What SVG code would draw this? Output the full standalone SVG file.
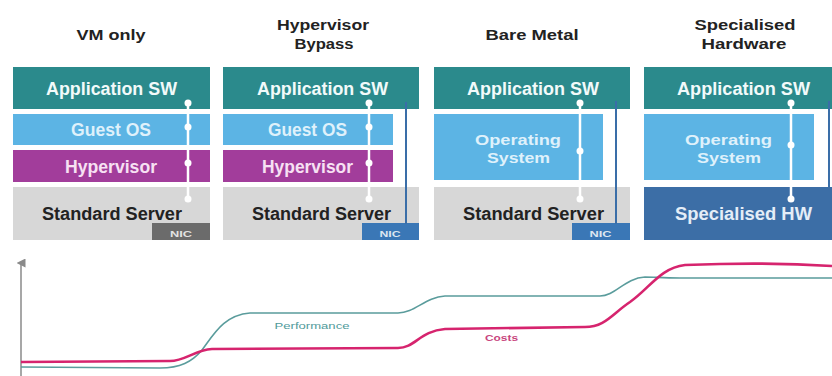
<svg xmlns="http://www.w3.org/2000/svg" width="832" height="376" viewBox="0 0 832 376">
<defs>
<style>
text{font-family:"Liberation Sans",Arial,sans-serif;font-weight:bold;text-anchor:middle}
.title{font-size:14px;fill:#222}
.lbl{font-size:17.5px}
.lbl2{font-size:15px}
.app{fill:#2b8a8c}.app-t{fill:#f2fafa}
.os{fill:#5cb4e4}.os-t{fill:#dff1fb}
.hyp{fill:#a23d9b}.hyp-t{fill:#f7e1f3}
.srv{fill:#d7d7d7}.srv-t{fill:#222}
.hw{fill:#3c6ea6}.hw-t{fill:#e4edf7}
.nic-g{fill:#6b6b6b}.nic-b{fill:#3a77b6}
.nic-t{font-size:9px;fill:#dde6f0}
.wline{stroke:#fff;stroke-width:2.5;fill:none}
.bline{stroke:#3a6ea8;stroke-width:2;fill:none}
.dot{fill:#fff}
.curve-p{stroke:#5a9c9c;stroke-width:1.6;fill:none}
.curve-c{stroke:#d6246e;stroke-width:2.6;fill:none}
.axis{stroke:#8a8a8a;stroke-width:1.5;fill:none}
.small{font-size:9px;font-weight:normal}
</style>
<marker id="arr" viewBox="0 0 10 10" refX="5" refY="5" markerWidth="6" markerHeight="6" orient="auto">
<path d="M0,10 L5,0 L10,10 Z" fill="#8a8a8a"/>
</marker>
</defs>
<rect width="832" height="376" fill="#fff"/>

<!-- Column 1: VM only -->
<g id="col-vm-only">
<text class="title" x="111" y="39.5" textLength="69" lengthAdjust="spacingAndGlyphs">VM only</text>
<rect class="app" x="13" y="67" width="197" height="42"/>
<text class="lbl app-t" x="111.5" y="94.5" textLength="131" lengthAdjust="spacingAndGlyphs">Application SW</text>
<rect class="os" x="13" y="114" width="197" height="31"/>
<text class="lbl os-t" x="111" y="136" textLength="80" lengthAdjust="spacingAndGlyphs">Guest OS</text>
<rect class="hyp" x="13" y="150" width="197" height="32"/>
<text class="lbl hyp-t" x="111" y="173" textLength="92" lengthAdjust="spacingAndGlyphs">Hypervisor</text>
<rect class="srv" x="13" y="187" width="197" height="53"/>
<text class="lbl srv-t" x="112" y="220" textLength="140" lengthAdjust="spacingAndGlyphs">Standard Server</text>
<rect class="nic-g" x="152" y="223" width="58" height="17"/>
<text class="nic-t" x="181" y="237" textLength="22" lengthAdjust="spacingAndGlyphs" style="fill:#e2e2e2">NIC</text>
</g>

<!-- Column 2: Hypervisor Bypass -->
<g id="col-hypervisor-bypass">
<text class="title" x="323" y="30" textLength="92" lengthAdjust="spacingAndGlyphs">Hypervisor</text>
<text class="title" x="324" y="49" textLength="59" lengthAdjust="spacingAndGlyphs">Bypass</text>
<rect class="app" x="223" y="67" width="196" height="42"/>
<text class="lbl app-t" x="322.5" y="94.5" textLength="131" lengthAdjust="spacingAndGlyphs">Application SW</text>
<rect class="os" x="223" y="114" width="170" height="31"/>
<text class="lbl os-t" x="307.5" y="136" textLength="79" lengthAdjust="spacingAndGlyphs">Guest OS</text>
<rect class="hyp" x="223" y="150" width="170" height="32"/>
<text class="lbl hyp-t" x="307.5" y="173" textLength="91" lengthAdjust="spacingAndGlyphs">Hypervisor</text>
<rect class="srv" x="223" y="187" width="196" height="53"/>
<text class="lbl srv-t" x="321.5" y="220" textLength="139" lengthAdjust="spacingAndGlyphs">Standard Server</text>
<rect class="nic-b" x="362" y="223" width="57" height="17"/>
<text class="nic-t" x="390" y="237" textLength="21" lengthAdjust="spacingAndGlyphs">NIC</text>
</g>

<!-- Column 3: Bare Metal -->
<g id="col-bare-metal">
<text class="title" x="532" y="39.5" textLength="93" lengthAdjust="spacingAndGlyphs">Bare Metal</text>
<rect class="app" x="434" y="67" width="196" height="42"/>
<text class="lbl app-t" x="533" y="94.5" textLength="132" lengthAdjust="spacingAndGlyphs">Application SW</text>
<rect class="os" x="434" y="114" width="169" height="66"/>
<text class="lbl2 os-t" x="518" y="145" textLength="86" lengthAdjust="spacingAndGlyphs">Operating</text>
<text class="lbl2 os-t" x="518.5" y="162.5" textLength="63" lengthAdjust="spacingAndGlyphs">System</text>
<rect class="srv" x="434" y="187" width="196" height="53"/>
<text class="lbl srv-t" x="533.5" y="220" textLength="141" lengthAdjust="spacingAndGlyphs">Standard Server</text>
<rect class="nic-b" x="572" y="223" width="58" height="17"/>
<text class="nic-t" x="600.5" y="237" textLength="22" lengthAdjust="spacingAndGlyphs">NIC</text>
</g>

<!-- Column 4: Specialised Hardware -->
<g id="col-specialised-hardware">
<text class="title" x="745" y="29.5" textLength="101" lengthAdjust="spacingAndGlyphs">Specialised</text>
<text class="title" x="744" y="49" textLength="85" lengthAdjust="spacingAndGlyphs">Hardware</text>
<rect class="app" x="644" y="67" width="188" height="42"/>
<text class="lbl app-t" x="743.5" y="94.5" textLength="133" lengthAdjust="spacingAndGlyphs">Application SW</text>
<rect class="os" x="644" y="114" width="170" height="66"/>
<text class="lbl2 os-t" x="728.5" y="145" textLength="87" lengthAdjust="spacingAndGlyphs">Operating</text>
<text class="lbl2 os-t" x="729" y="162.5" textLength="64" lengthAdjust="spacingAndGlyphs">System</text>
<rect class="hw" x="644" y="187" width="188" height="53"/>
<text class="lbl hw-t" x="743.5" y="220" textLength="137" lengthAdjust="spacingAndGlyphs">Specialised HW</text>
</g>

<!-- Connectors -->
<g id="connectors">
<line class="wline" x1="188" y1="103" x2="188" y2="199"/>
<circle class="dot" cx="188" cy="103" r="3.5"/>
<circle class="dot" cx="188" cy="127" r="3.5"/>
<circle class="dot" cx="188" cy="163" r="3.5"/>
<circle class="dot" cx="188" cy="199" r="3.5"/>

<line class="wline" x1="369" y1="103" x2="369" y2="199"/>
<circle class="dot" cx="369" cy="103" r="3.5"/>
<circle class="dot" cx="369" cy="127" r="3.5"/>
<circle class="dot" cx="369" cy="163" r="3.5"/>
<circle class="dot" cx="369" cy="199" r="3.5"/>
<line class="bline" x1="406" y1="102" x2="406" y2="224"/>

<line class="wline" x1="580" y1="103" x2="580" y2="199"/>
<circle class="dot" cx="580" cy="103" r="3.5"/>
<circle class="dot" cx="580" cy="151" r="3.5"/>
<circle class="dot" cx="580" cy="199" r="3.5"/>
<line class="bline" x1="616" y1="101" x2="616" y2="224"/>

<line class="wline" x1="791" y1="103" x2="791" y2="199"/>
<circle class="dot" cx="791" cy="103" r="3.5"/>
<circle class="dot" cx="791" cy="145" r="3.5"/>
<circle class="dot" cx="791" cy="199" r="3.5"/>
<line class="bline" x1="829" y1="101" x2="829" y2="187"/>
</g>

<!-- Chart -->
<g id="chart">
<line class="axis" x1="21" y1="376" x2="21" y2="263" marker-end="url(#arr)"/>
<path class="curve-p" d="M21,367 L160,368 C180,368 192,362 202,350 C214,334 224,315 250,313 L398,313 C415,313 425,297 445,296 L600,296 C615,296 625,278 645,277 C655,277 662,278 680,278 L832,278"/>
<path class="curve-c" d="M21,362 L170,361 C185,361 195,350 212,349 L398,348 C415,348 420,331 445,329 L585,327 C605,327 612,314 630,302 C650,288 660,268 685,265 L720,264 C760,263 800,264 832,266"/>
<text class="small" x="312" y="329" style="fill:#4f9a9a" textLength="75" lengthAdjust="spacingAndGlyphs">Performance</text>
<text class="small" x="501.5" y="341" style="fill:#c8467e;font-weight:bold" textLength="33" lengthAdjust="spacingAndGlyphs">Costs</text>
</g>
</svg>
